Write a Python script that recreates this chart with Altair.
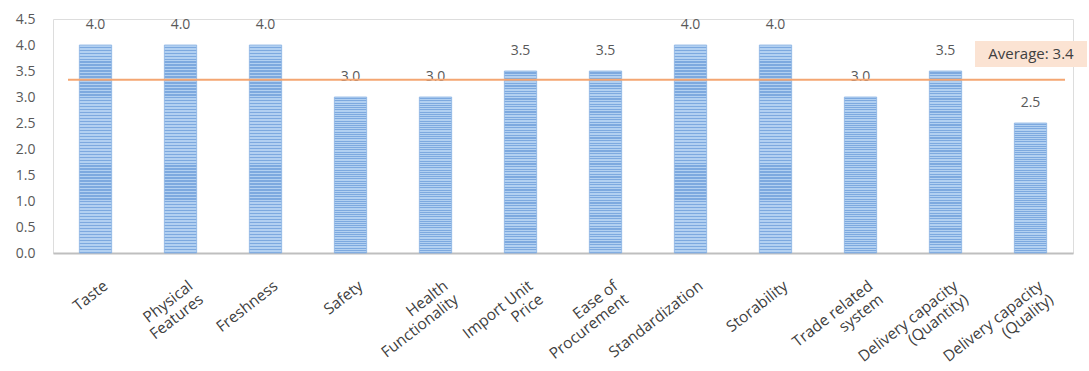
import altair as alt
import pandas as pd

categories = ["Taste", "Physical|Features", "Freshness", "Safety", "Health|Functionality",
              "Import Unit|Price", "Ease of|Procurement", "Standardization", "Storability",
              "Trade related|system", "Delivery capacity|(Quantity)", "Delivery capacity|(Quality)"]
values = [4.0, 4.0, 4.0, 3.0, 3.0, 3.5, 3.5, 4.0, 4.0, 3.0, 3.5, 2.5]
average_value = 3.33
average_label = "Average: 3.4"
y_ticks = [0.0, 0.5, 1.0, 1.5, 2.0, 2.5, 3.0, 3.5, 4.0, 4.5]

df = pd.DataFrame({"cat": categories, "val": values})
FONT = "Open Sans"

# striped fill (horizontal lines) as a hard-stop gradient
N = 70
stops = []
for i in range(N):
    stops.append(alt.GradientStop(offset=i / N, color="#B2D0F1"))
    stops.append(alt.GradientStop(offset=(i + 0.55) / N, color="#B2D0F1"))
    stops.append(alt.GradientStop(offset=(i + 0.55) / N, color="#7DA9DF"))
    stops.append(alt.GradientStop(offset=(i + 1) / N, color="#7DA9DF"))
stripe = alt.LinearGradient(gradient="linear", stops=stops, x1=0, x2=0, y1=0, y2=1)

x = alt.X("cat:N", sort=categories, title=None,
          scale=alt.Scale(paddingInner=0.62, paddingOuter=0.31),
          axis=alt.Axis(labelAngle=-38, labelExpr="split(datum.label, '|')",
                        labelFontSize=15.5, labelColor="#404040", labelFont=FONT,
                        labelAlign="right", labelBaseline="top",
                        ticks=False, domainColor="#BFBFBF", domainWidth=2,
                        labelPadding=25, labelOffset=6, labelLineHeight=17,
                        labelOverlap=False, labelBound=False))
y_axis = alt.Axis(values=y_ticks, tickCount=10, format=".1f", labelOverlap=False, labelBound=False,
                  labelFlush=False, grid=False, domain=False, ticks=False, labelFontSize=14,
                  labelColor="#595959", labelFont=FONT, labelPadding=18)
y_scale = alt.Scale(domain=[0, 4.5], nice=False, zero=True)
y = alt.Y("val:Q", title=None, scale=y_scale, axis=y_axis)

bars = alt.Chart(df).mark_bar(color=stripe, stroke="#8AB3E3", strokeWidth=0.8).encode(x=x, y=y)
text = alt.Chart(df).mark_text(dy=-13, fontSize=14, color="#595959", font=FONT, baseline="bottom").encode(
    x=x, y=y, text=alt.Text("val:Q", format=".1f"))

avg_df = pd.DataFrame({"val": [average_value], "t": [average_label]})
rule = alt.Chart(avg_df).mark_rule(color="#F4A672", strokeWidth=2).encode(
    y=y, x=alt.value(15), x2=alt.value(1012))
box = alt.Chart(avg_df).mark_rect(color="#FBE3D3").encode(
    x=alt.value(922), x2=alt.value(1034), y=alt.value(22), y2=alt.value(48))
label = alt.Chart(avg_df).mark_text(fontSize=15, color="#404040", font=FONT).encode(
    x=alt.value(978), y=alt.value(35), text="t:N")

chart = alt.layer(bars, text, rule, box, label).properties(
    width=1020, height=234,
    autosize=alt.AutoSizeParams(type="none"),
    padding={"left": 53, "top": 19, "right": 16, "bottom": 118},
).configure_view(stroke="transparent", strokeWidth=0, clip=False).configure(background="white")

chart.save("out.html", embed_options={"renderer": "svg", "actions": False})
